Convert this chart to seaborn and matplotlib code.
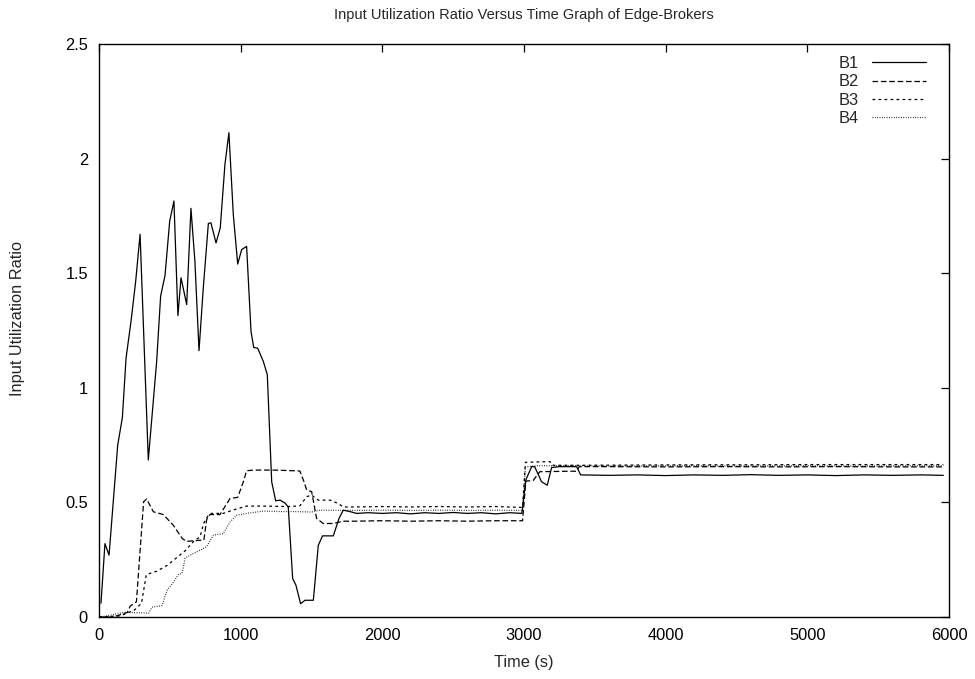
import matplotlib
matplotlib.use("Agg")
import matplotlib.pyplot as plt
import seaborn as sns
import pandas as pd
from matplotlib.ticker import FuncFormatter, MultipleLocator

# ---- data: (time s, ratio) ----
b1 = [(14, 0.06), (42, 0.32), (71, 0.27), (132, 0.75), (165, 0.87), (191, 1.13), (226, 1.29),
      (259, 1.465), (290, 1.67), (348, 0.685), (407, 1.115), (435, 1.40), (466, 1.49),
      (499, 1.727), (529, 1.815), (557, 1.315), (579, 1.48), (619, 1.363), (649, 1.783),
      (677, 1.552), (706, 1.162), (736, 1.435), (772, 1.717), (790, 1.72), (826, 1.632),
      (856, 1.698), (889, 1.975), (917, 2.113), (948, 1.756), (979, 1.54), (1007, 1.603),
      (1042, 1.617), (1073, 1.246), (1092, 1.176), (1120, 1.173), (1160, 1.115), (1188, 1.057),
      (1219, 0.59), (1247, 0.507), (1278, 0.51), (1313, 0.497), (1336, 0.48), (1367, 0.168),
      (1390, 0.139), (1423, 0.058), (1454, 0.073), (1513, 0.073), (1548, 0.313), (1578, 0.354),
      (1654, 0.354), (1694, 0.43), (1724, 0.466), (1771, 0.46), (1818, 0.452), (1900, 0.455),
      (2000, 0.452), (2100, 0.455), (2200, 0.450), (2300, 0.455), (2400, 0.452), (2500, 0.456),
      (2600, 0.452), (2700, 0.455), (2800, 0.450), (2900, 0.455), (2985, 0.452), (3013, 0.598),
      (3054, 0.656), (3075, 0.656), (3124, 0.59), (3164, 0.575), (3195, 0.652), (3250, 0.656),
      (3371, 0.656), (3400, 0.62), (3600, 0.618), (3800, 0.62), (4000, 0.617), (4200, 0.62),
      (4400, 0.618), (4600, 0.621), (4800, 0.618), (5000, 0.62), (5200, 0.617), (5400, 0.62),
      (5600, 0.618), (5800, 0.62), (5960, 0.618)]

b2 = [(0, 0.0), (100, 0.0), (200, 0.02), (221, 0.048), (264, 0.066), (315, 0.503), (336, 0.515),
      (384, 0.459), (454, 0.447), (525, 0.40), (588, 0.342), (619, 0.33), (713, 0.335),
      (740, 0.335), (760, 0.425), (783, 0.447), (854, 0.447), (925, 0.517), (979, 0.522),
      (1019, 0.59), (1042, 0.638), (1089, 0.641), (1242, 0.641), (1418, 0.637), (1447, 0.59),
      (1466, 0.554), (1501, 0.547), (1536, 0.43), (1583, 0.408), (1654, 0.408), (1724, 0.418),
      (1800, 0.418), (2000, 0.42), (2200, 0.418), (2400, 0.42), (2600, 0.418), (2800, 0.42),
      (2990, 0.42), (3013, 0.593), (3064, 0.595), (3112, 0.634), (3324, 0.636), (3371, 0.636),
      (3390, 0.656), (3600, 0.656), (4000, 0.655), (4400, 0.656), (4800, 0.655), (5200, 0.656),
      (5600, 0.655), (5960, 0.655)]

b3 = [(0, 0.0), (150, 0.005), (250, 0.03), (300, 0.06), (334, 0.185), (409, 0.2), (480, 0.225),
      (551, 0.26), (610, 0.29), (668, 0.33), (713, 0.35), (740, 0.41), (772, 0.445),
      (795, 0.452), (877, 0.452), (948, 0.467), (1042, 0.484), (1148, 0.484), (1336, 0.482),
      (1418, 0.485), (1466, 0.525), (1501, 0.532), (1548, 0.51), (1630, 0.51), (1689, 0.495),
      (1724, 0.48), (1800, 0.48), (2000, 0.482), (2200, 0.48), (2400, 0.482), (2600, 0.48),
      (2800, 0.482), (2990, 0.478), (3010, 0.675), (3183, 0.678), (3200, 0.662), (3400, 0.662),
      (3800, 0.663), (4200, 0.664), (4600, 0.664), (5000, 0.665), (5400, 0.665), (5800, 0.665),
      (5960, 0.665)]

b4 = [(0, 0.0), (56, 0.005), (174, 0.02), (221, 0.02), (351, 0.017), (374, 0.043), (445, 0.05),
      (480, 0.116), (527, 0.153), (560, 0.185), (586, 0.19), (607, 0.255), (621, 0.262),
      (666, 0.277), (760, 0.306), (807, 0.357), (877, 0.364), (925, 0.415), (972, 0.444),
      (1042, 0.452), (1160, 0.462), (1300, 0.46), (1383, 0.46), (1500, 0.458), (1560, 0.466),
      (1800, 0.465), (2000, 0.466), (2200, 0.465), (2400, 0.466), (2600, 0.465), (2800, 0.466),
      (2990, 0.465), (3010, 0.655), (3100, 0.66), (3200, 0.66), (3400, 0.66), (3800, 0.659),
      (4200, 0.66), (4600, 0.659), (5000, 0.66), (5400, 0.659), (5800, 0.66), (5960, 0.66)]

series = [("B1", b1), ("B2", b2), ("B3", b3), ("B4", b4)]
dash_styles = {"B1": None, "B2": (4.5, 2.2), "B3": (2.2, 2.6), "B4": (0.6, 1.3)}

title = "Input Utilization Ratio Versus Time Graph of Edge-Brokers"
xlabel = "Time (s)"
ylabel = "Input Utilization Ratio"

# ---- plotting ----
sns.set_style("white")
plt.rcParams["font.family"] = ["Liberation Sans", "DejaVu Sans"]

W, H = 975, 679
FS = 11.8
fig = plt.figure(figsize=(W / 100, H / 100), dpi=100)
ax = fig.add_axes([99 / W, 1 - 617 / H, (949 - 99) / W, (617 - 44) / H])

for name, pts in series:
    df = pd.DataFrame(pts, columns=["t", "v"])
    sns.lineplot(data=df, x="t", y="v", ax=ax, color="black", lw=0.9,
                 label=name, estimator=None, sort=False)
    l = ax.get_lines()[-1]
    if dash_styles[name] is not None:
        l.set_dashes(dash_styles[name])

ax.set_xlim(0, 6000)
ax.set_ylim(0, 2.5)
ax.xaxis.set_major_locator(MultipleLocator(1000))
ax.yaxis.set_major_locator(MultipleLocator(0.5))
ax.yaxis.set_major_formatter(FuncFormatter(lambda y, p: f"{y:g}"))
ax.tick_params(direction="in", length=6, width=0.9, top=True, right=True,
               labelsize=FS, pad=8, colors="black")
for s in ax.spines.values():
    s.set_visible(True)
    s.set_color("black")
    s.set_linewidth(1.0)
ax.set_xlabel("")
ax.set_ylabel("")
fig.text(524 / W, 1 - 662 / H, xlabel, ha="center", va="center", fontsize=FS)
fig.text(18 / W, 1 - 318 / H, ylabel, ha="center", va="center", rotation=90, fontsize=FS)
fig.text(524 / W, 1 - 15 / H, title, ha="center", va="center", fontsize=10.5)

handles, labels = ax.get_legend_handles_labels()
leg = ax.legend(handles, labels, loc="upper right", bbox_to_anchor=(926 / W, 1 - 56 / H),
                bbox_transform=fig.transFigure, frameon=False, markerfirst=False,
                fontsize=FS, handlelength=3.3, handletextpad=0.8, labelspacing=0.2,
                borderpad=0, borderaxespad=0)

fig.savefig("out.png", dpi=100)
